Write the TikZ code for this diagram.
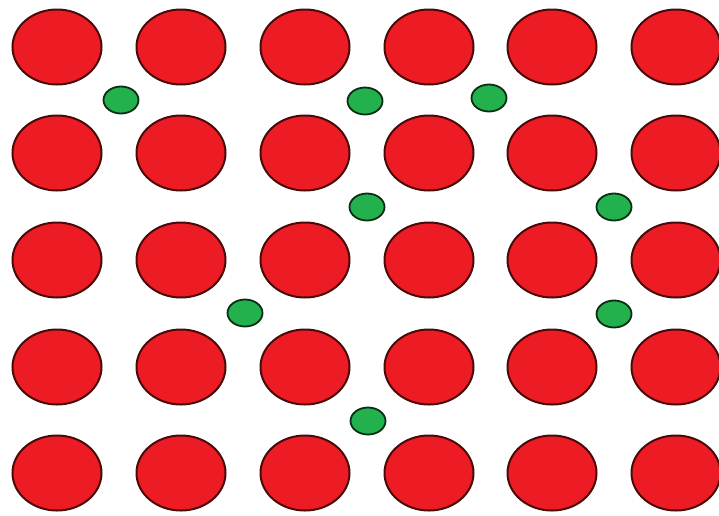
\documentclass[tikz,border=0pt]{standalone}
\usetikzlibrary{shapes.geometric}
\definecolor{atomred}{HTML}{ED1C24}
\definecolor{atomredline}{HTML}{4A0A0A}
\definecolor{atomgreen}{HTML}{22B14C}
\definecolor{atomgreenline}{HTML}{0A2E12}
\tikzset{
  bigatom/.style={ellipse, draw=atomredline, fill=atomred, line width=2pt,
    minimum width=89pt, minimum height=75pt, inner sep=0pt},
  smallatom/.style={ellipse, draw=atomgreenline, fill=atomgreen, line width=1.8pt,
    minimum width=35pt, minimum height=27pt, inner sep=0pt}
}
\begin{document}
\begin{tikzpicture}[x=1pt,y=-1pt]
\useasboundingbox (0,0) rectangle (719,515);
\fill[white] (0,0) rectangle (719,515);
\foreach \c/\x in {1/57,2/181,3/305,4/429,5/552,6/676}{
  \foreach \r/\y in {1/47,2/153,3/260,4/367,5/473}{
    \node[bigatom] (r\r c\c) at (\x,\y) {};
  }
}
\node[smallatom] (g1) at (121,100) {};
\node[smallatom] (g2) at (365,101) {};
\node[smallatom] (g3) at (489,98) {};
\node[smallatom] (g4) at (367,207) {};
\node[smallatom] (g5) at (614,207) {};
\node[smallatom] (g6) at (245,313) {};
\node[smallatom] (g7) at (614,314) {};
\node[smallatom] (g8) at (368,421) {};
\end{tikzpicture}
\end{document}
